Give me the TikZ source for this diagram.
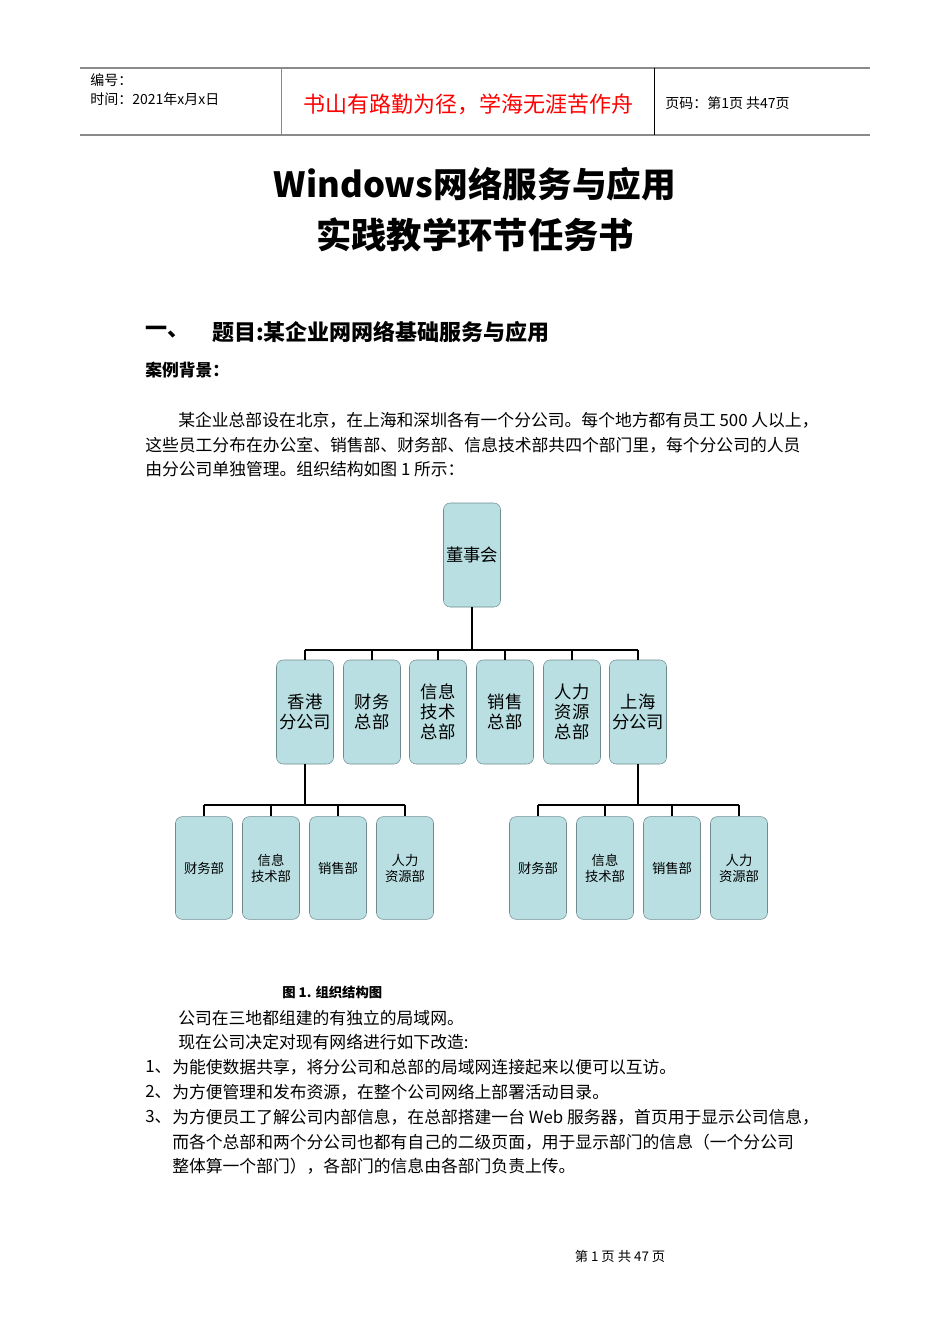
\documentclass[tikz,border=0pt]{standalone}
\usepackage{fontspec}
\setmainfont{Noto Sans CJK SC}
\usetikzlibrary{positioning}
\definecolor{boxfill}{HTML}{B9DFE2}
\definecolor{boxline}{HTML}{6E8C90}
\definecolor{rulegray}{HTML}{8A8A8A}
\tikzset{
  orgbox/.style={rectangle, rounded corners=5pt, draw=boxline, fill=boxfill, minimum width=42.75pt, align=center, inner sep=1pt},
  topbox/.style={orgbox, minimum height=78pt, font=\fontsize{13}{15}\selectfont},
  subbox/.style={orgbox, minimum height=77pt, font=\fontsize{10}{12}\selectfont},
  link/.style={thick, black},
  body/.style={anchor=west, inner sep=0pt, font=\fontsize{12.6}{15}\selectfont},
}
\begin{document}
\begin{tikzpicture}[x=0.75pt, y=-0.75pt]
\useasboundingbox (0,0) rectangle (950,1344);
% header
\draw[rulegray, thick] (80,68) -- (870,68);
\draw[rulegray, thick] (80,135) -- (870,135);
\draw[rulegray] (281,68) -- (281,135);
\draw (654,68) -- (654,135);
\node[body, font=\fontsize{10.5}{12}\selectfont] (num) at (90,80) {编号：};
\node[body, font=\fontsize{10.5}{12}\selectfont] (date) at (90,99) {时间：2021年x月x日};
\node[red, inner sep=0pt, font=\fontsize{16.5}{18}\selectfont] (motto) at (468,104) {书山有路勤为径，学海无涯苦作舟};
\node[body, font=\fontsize{10.5}{12}\selectfont] (page) at (665,103) {页码：第1页\ 共47页};
% title
\node[inner sep=0pt, font=\fontsize{26}{30}\bfseries] (title1) at (475,184) {Windows网络服务与应用};
\node[inner sep=0pt, font=\fontsize{26.5}{30}\bfseries] (title2) at (475,235) {实践教学环节任务书};
\node[body, font=\fontsize{16.5}{20}\bfseries] (sec) at (145,332) {一、};
\node[body, font=\fontsize{16.5}{20}\bfseries] (topic) at (212,332) {题目:某企业网网络基础服务与应用};
\node[body, font=\fontsize{12.6}{15}\bfseries] (bg) at (145,370) {案例背景：};
\node[body] (p1) at (178,420) {某企业总部设在北京，在上海和深圳各有一个分公司。每个地方都有员工 500 人以上，};
\node[body] (p2) at (145,445) {这些员工分布在办公室、销售部、财务部、信息技术部共四个部门里，每个分公司的人员};
\node[body] (p3) at (145,469) {由分公司单独管理。组织结构如图 1 所示：};
% org chart
\node[topbox] (board) at (472,555) {董事会};
\node[topbox] (hk) at (305,712) {香港\\分公司};
\node[topbox] (fin) at (372,712) {财务\\总部};
\node[topbox] (it) at (438,712) {信息\\技术\\总部};
\node[topbox] (sales) at (505,712) {销售\\总部};
\node[topbox] (hr) at (572,712) {人力\\资源\\总部};
\node[topbox] (sh) at (638,712) {上海\\分公司};
\node[subbox] (hkfin) at (204,868) {财务部};
\node[subbox] (hkit) at (271,868) {信息\\技术部};
\node[subbox] (hksales) at (338,868) {销售部};
\node[subbox] (hkhr) at (405,868) {人力\\资源部};
\node[subbox] (shfin) at (538,868) {财务部};
\node[subbox] (shit) at (605,868) {信息\\技术部};
\node[subbox] (shsales) at (672,868) {销售部};
\node[subbox] (shhr) at (739,868) {人力\\资源部};
\coordinate (bus) at (0,650);
\coordinate (hkbus) at (0,805);
\coordinate (shbus) at (0,805);
\draw[link] (board.south) -- (board.south |- bus);
\draw[link] (hk.north |- bus) -- (sh.north |- bus);
\foreach \n in {hk,fin,it,sales,hr,sh}
  \draw[link] (\n.north) -- (\n.north |- bus);
\draw[link] (hk.south) -- (hk.south |- hkbus);
\draw[link] (hkfin.north |- hkbus) -- (hkhr.north |- hkbus);
\foreach \n in {hkfin,hkit,hksales,hkhr}
  \draw[link] (\n.north) -- (\n.north |- hkbus);
\draw[link] (sh.south) -- (sh.south |- shbus);
\draw[link] (shfin.north |- shbus) -- (shhr.north |- shbus);
\foreach \n in {shfin,shit,shsales,shhr}
  \draw[link] (\n.north) -- (\n.north |- shbus);
\node[body, font=\fontsize{10}{12}\bfseries] (cap) at (282,992) {图 1. 组织结构图};
% text below
\node[body] (t1) at (178,1018) {公司在三地都组建的有独立的局域网。};
\node[body] (t2) at (178,1042) {现在公司决定对现有网络进行如下改造:};
\node[body] (n1) at (145,1067) {1、};
\node[body] (l1) at (172,1067) {为能使数据共享，将分公司和总部的局域网连接起来以便可以互访。};
\node[body] (n2) at (145,1092) {2、};
\node[body] (l2) at (172,1092) {为方便管理和发布资源，在整个公司网络上部署活动目录。};
\node[body] (n3) at (145,1117) {3、};
\node[body] (l3) at (172,1117) {为方便员工了解公司内部信息，在总部搭建一台 Web 服务器，首页用于显示公司信息，};
\node[body] (l4) at (172,1142) {而各个总部和两个分公司也都有自己的二级页面，用于显示部门的信息（一个分公司};
\node[body] (l5) at (172,1166) {整体算一个部门），各部门的信息由各部门负责上传。};
% footer
\node[inner sep=0pt, font=\fontsize{10}{12}\selectfont] (foot) at (620,1256) {第\ 1\ 页\ 共\ 47\ 页};
\end{tikzpicture}
\end{document}
